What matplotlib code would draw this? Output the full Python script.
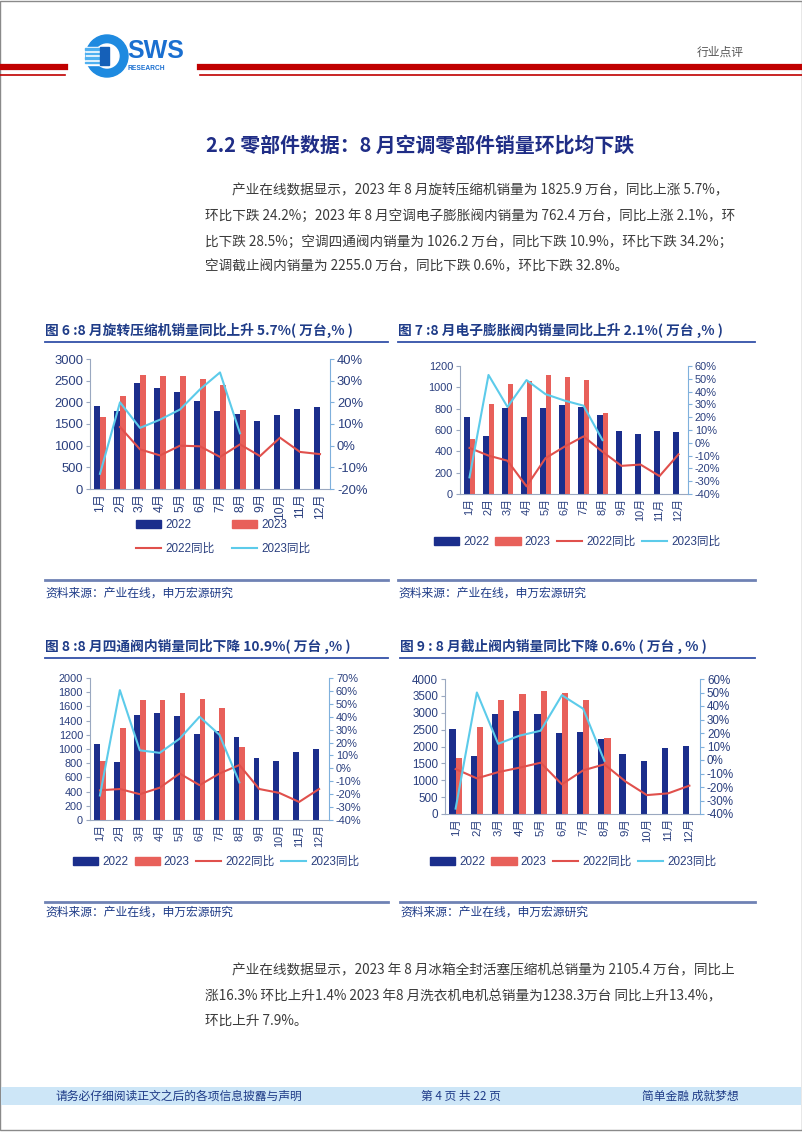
import numpy as np
import matplotlib
matplotlib.use("Agg")
import matplotlib.pyplot as plt
from matplotlib.patches import Rectangle, Patch, Circle
from matplotlib.lines import Line2D

plt.rcParams['font.family'] = ['Noto Sans CJK SC', 'DejaVu Sans']
NUMF = ['Liberation Sans', 'Noto Sans CJK SC']

W, H = 802, 1133

months = ['1月', '2月', '3月', '4月', '5月', '6月', '7月', '8月', '9月', '10月', '11月', '12月']

# 图6 旋转压缩机
rot_2022 = [1921, 1798, 2454, 2338, 2245, 2037, 1798, 1728, 1566, 1713, 1852, 1890]
rot_2023 = [1659, 2153, 2639, 2600, 2616, 2546, 2400, 1825.9]
rot_yoy22 = [np.nan, 8.6, -1.7, -4.5, 0.0, -0.3, -5.2, 0.6, -4.8, 3.7, -2.9, -3.9]
rot_yoy23 = [-13.0, 20.0, 8.2, 12.0, 16.7, 26.0, 33.8, 5.7]

# 图7 电子膨胀阀
eev_2022 = [720, 545, 810, 720, 810, 830, 820, 745, 595, 565, 595, 585]
eev_2023 = [515, 840, 1030, 1060, 1115, 1095, 1065, 762.4]
eev_yoy22 = [-4.0, -10.0, -14.0, -34.0, -12.0, -3.0, 5.0, -7.0, -18.0, -17.0, -26.0, -9.0]
eev_yoy23 = [-27.0, 53.0, 28.0, 49.0, 38.0, 33.0, 29.0, 2.1]

# 图8 四通阀
fwv_2022 = [1077, 810, 1475, 1503, 1466, 1218, 1260, 1166, 880, 838, 951, 1007]
fwv_2023 = [834, 1293, 1686, 1686, 1789, 1705, 1578, 1026.2]
fwv_yoy22 = [-17.0, -16.0, -20.0, -15.0, -4.0, -13.0, -4.0, 2.6, -16.0, -19.0, -26.0, -16.0]
fwv_yoy23 = [-21.0, 60.6, 14.0, 12.0, 23.0, 40.0, 26.0, -10.9]

# 图9 截止阀
stv_2022 = [2520, 1709, 2964, 3053, 2964, 2391, 2421, 2223, 1769, 1561, 1946, 2005]
stv_2023 = [1650, 2579, 3390, 3557, 3656, 3597, 3390, 2255.0]
stv_yoy22 = [-6.7, -13.6, -9.0, -5.7, -2.0, -18.0, -7.7, -3.2, -16.0, -26.0, -24.7, -19.0]
stv_yoy23 = [-36.0, 50.0, 12.0, 18.0, 21.7, 48.0, 38.0, -0.6]

NAVY = '#1B2E8C'
SALMON = '#E8605A'
RED = '#E0504C'
CYAN = '#5CCBEA'
TXT_BLUE = '#1F3C88'
TICK = '#2A3F7E'
BODY = '#3A3A3A'

fig = plt.figure(figsize=(W / 100, H / 100), dpi=100)


def fx(x):
    return x / W


def fy(y):
    return 1 - y / H


def ax_px(x0, y0, x1, y1):
    return fig.add_axes([fx(x0), fy(y1), (x1 - x0) / W, (y1 - y0) / H])


def hline(x0, x1, y, color, lw):
    fig.add_artist(Line2D([fx(x0), fx(x1)], [fy(y), fy(y)], color=color, lw=lw))


# page border
fig.add_artist(Rectangle((0.0005, fy(1130)), 0.999, fy(0) - fy(1130) - 0.001,
                         fill=False, ec='#8a8a8a', lw=1.0))

# header
hline(0, 65, 66.5, '#C00000', 4.5)
hline(0, 65, 74.5, '#C00000', 1.2)
hline(200, 802, 66.5, '#C00000', 4.5)
hline(200, 802, 74.5, '#C00000', 1.2)
lax = ax_px(82, 33, 130, 79)
lax.set_xlim(0, 48)
lax.set_ylim(46, 0)
lax.axis('off')
lax.add_patch(Circle((25, 23), 21, color='#1E8AE0'))
lax.add_patch(Circle((25, 23), 12, color='white'))
lax.add_patch(Rectangle((4, 14), 21, 18, color='white'))
for yy in [15, 19.5, 24, 28.5]:
    lax.add_patch(Rectangle((3, yy), 15, 1.8, color='#4FB0F0'))
lax.add_patch(Rectangle((18, 14), 9, 18, color='#1560B8'))
fig.text(fx(127), fy(51), 'SWS', fontsize=18, fontweight='bold', color='#1A6FD0',
         family=NUMF, va='center', ha='left')
fig.text(fx(128), fy(69), 'RESEARCH', fontsize=4.8, fontweight='bold', color='#1A6FD0',
         family=NUMF, va='center', ha='left')
fig.text(fx(720), fy(52), '行业点评', fontsize=8.5, color='#555555', ha='center', va='center')

# section title
fig.text(fx(420), fy(145), '2.2 零部件数据：8 月空调零部件销量环比均下跌', fontsize=14.3,
         fontweight='bold', color='#1F2D86', ha='center', va='center')

para1 = [
    (232, 190, '产业在线数据显示，2023 年 8 月旋转压缩机销量为 1825.9 万台，同比上涨 5.7%，'),
    (205, 216, '环比下跌 24.2%；2023 年 8 月空调电子膨胀阀内销量为 762.4 万台，同比上涨 2.1%，环'),
    (205, 242, '比下跌 28.5%；空调四通阀内销量为 1026.2 万台，同比下跌 10.9%，环比下跌 34.2%；'),
    (205, 266, '空调截止阀内销量为 2255.0 万台，同比下跌 0.6%，环比下跌 32.8%。'),
]
para2 = [
    (232, 970, '产业在线数据显示，2023 年 8 月冰箱全封活塞压缩机总销量为 2105.4 万台，同比上'),
    (205, 996, '涨16.3% 环比上升1.4% 2023 年8 月洗衣机电机总销量为1238.3万台 同比上升13.4%，'),
    (205, 1021, '环比上升 7.9%。'),
]
for x, y, s in para1 + para2:
    fig.text(fx(x), fy(y), s, fontsize=9.8, color=BODY, ha='left', va='center')


def draw_chart(plot_box, title, title_xy, rule_y, src_y, x_span,
               v22, v23, p22, p23, ylim, ystep, plim, pstep,
               leg_center, ncol, fs, xfs):
    x0, x1 = x_span
    fig.text(fx(x0), fy(title_xy), title, fontsize=9.9, fontweight='bold',
             color=TXT_BLUE, ha='left', va='center')
    hline(x0, x1, title_xy + 12, '#3350A8', 1.3)
    hline(x0, x1, rule_y, '#6F82B4', 2.0)
    fig.text(fx(x0), fy(src_y), '资料来源：产业在线，申万宏源研究', fontsize=8.5,
             color=TXT_BLUE, ha='left', va='center')

    ax = ax_px(*plot_box)
    x = np.arange(len(months))
    w = 0.29
    ax.bar(x - w / 2, v22, w, color=NAVY, zorder=2)
    ax.bar(x[:len(v23)] + w / 2, v23, w, color=SALMON, zorder=2)
    ax.set_xlim(-0.5, 11.5)
    ax.set_ylim(*ylim)
    ax.set_yticks(np.arange(ylim[0], ylim[1] + 1, ystep))
    ax.set_xticks(x)
    ax.set_xticklabels(months, rotation=90, family=NUMF)
    for lab in ax.get_yticklabels():
        lab.set_family(NUMF)
    ax.tick_params(axis='both', colors='#9aa8c0', labelcolor=TICK, labelsize=fs,
                   length=3, width=0.8, pad=2)
    ax.tick_params(axis='x', length=0, pad=3, labelsize=xfs)
    for s in ['top', 'right']:
        ax.spines[s].set_visible(False)
    ax.spines['left'].set_color('#9aa8c0')
    ax.spines['bottom'].set_color('#9aa8c0')

    ax2 = ax.twinx()
    ax2.plot(x, p22, color=RED, lw=1.5, zorder=3)
    ax2.plot(x[:len(p23)], p23, color=CYAN, lw=1.5, zorder=4)
    ax2.set_ylim(*plim)
    ax2.set_yticks(np.arange(plim[0], plim[1] + 1, pstep))
    ax2.set_yticklabels([f'{v:.0f}%' for v in np.arange(plim[0], plim[1] + 1, pstep)],
                        family=NUMF)
    ax2.tick_params(axis='y', colors='#7fb0dc', labelcolor=TICK, labelsize=fs,
                    length=3, width=0.8, pad=2)
    for s in ['top', 'left', 'bottom']:
        ax2.spines[s].set_visible(False)
    ax2.spines['right'].set_color('#7fb0dc')

    h = {'2022': Patch(color=NAVY), '2023': Patch(color=SALMON),
         '2022同比': Line2D([], [], color=RED, lw=1.5),
         '2023同比': Line2D([], [], color=CYAN, lw=1.5)}
    if ncol == 2:
        labels = ['2022', '2022同比', '2023', '2023同比']
        kw = dict(columnspacing=1.5, labelspacing=1.0)
    else:
        labels = ['2022', '2023', '2022同比', '2023同比']
        kw = dict(columnspacing=0.55)
    fig.legend([h[k] for k in labels], labels, loc='center', ncol=ncol,
               bbox_to_anchor=(fx(leg_center[0]), fy(leg_center[1])),
               frameon=False, handlelength=2.15, handleheight=0.7, handletextpad=0.35,
               borderpad=0, prop={'family': NUMF, 'size': 8.4}, labelcolor=TICK, **kw)


draw_chart((90, 359, 330, 489), '图 6 :8 月旋转压缩机销量同比上升 5.7%( 万台,% )', 330, 580, 593,
           (45, 388), rot_2022, rot_2023, rot_yoy22, rot_yoy23,
           (0, 3000), 500, (-20, 40), 10, (223, 537), 2, 9.4, 8.8)
draw_chart((460, 366, 688, 494), '图 7 :8 月电子膨胀阀内销量同比上升 2.1%( 万台 ,% )', 330, 580, 593,
           (398, 755), eev_2022, eev_2023, eev_yoy22, eev_yoy23,
           (0, 1200), 200, (-40, 60), 10, (577, 542), 4, 7.9, 7.9)
draw_chart((90, 678, 329, 820), '图 8 :8 月四通阀内销量同比下降 10.9%( 万台 ,% )', 646, 902, 912,
           (45, 388), fwv_2022, fwv_2023, fwv_yoy22, fwv_yoy23,
           (0, 2000), 200, (-40, 70), 10, (216, 862), 4, 7.9, 7.9)
draw_chart((445, 679, 700, 814), '图 9 : 8 月截止阀内销量同比下降 0.6% ( 万台 , % )', 646, 902, 912,
           (400, 755), stv_2022, stv_2023, stv_yoy22, stv_yoy23,
           (0, 4000), 500, (-40, 60), 10, (573, 862), 4, 8.4, 8.2)

# footer
fig.add_artist(Rectangle((0.001, fy(1105)), 0.998, (1105 - 1087) / H, color='#CDE6F7', lw=0))
fig.text(fx(55), fy(1096), '请务必仔细阅读正文之后的各项信息披露与声明', fontsize=8.5,
         color=TXT_BLUE, ha='left', va='center')
fig.text(fx(461), fy(1096), '第 4 页 共 22 页', fontsize=8.5, color=TXT_BLUE,
         ha='center', va='center')
fig.text(fx(739), fy(1096), '简单金融 成就梦想', fontsize=8.5, color=TXT_BLUE,
         ha='right', va='center')

fig.savefig('out.png', dpi=100)
